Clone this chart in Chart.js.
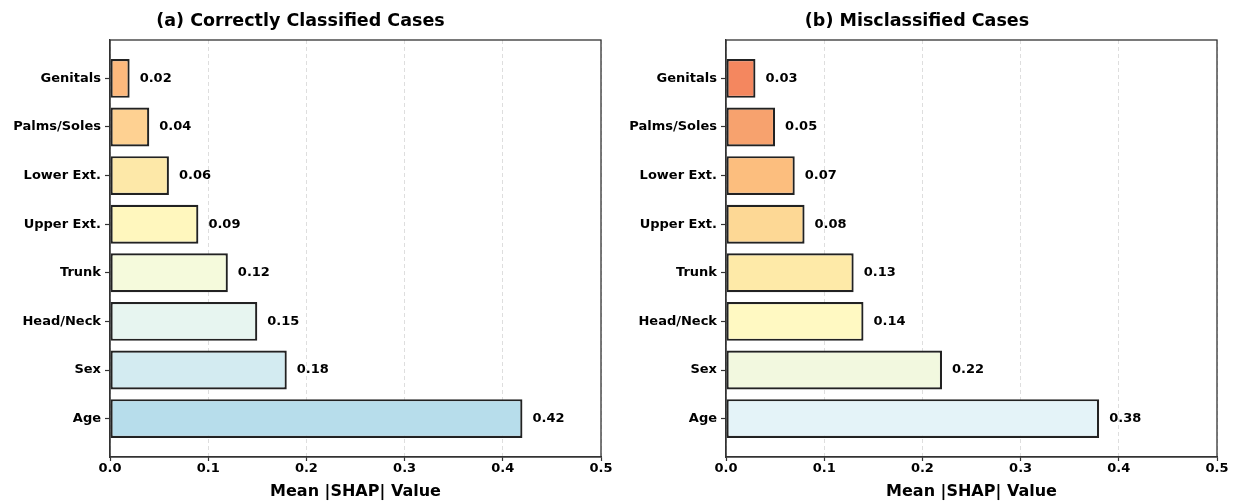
<!DOCTYPE html>
<html>
<head>
<meta charset="utf-8">
<script src="https://cdn.jsdelivr.net/npm/chart.js@4.4.0/dist/chart.umd.min.js"></script>
<style>
html,body{margin:0;padding:0;background:#fff;width:1235px;height:503px;overflow:hidden;}
#c1{position:absolute;left:0;top:0;}
#c2{position:absolute;left:617px;top:0;}
</style>
</head>
<body>
<canvas id="c1" width="617" height="503"></canvas>
<canvas id="c2" width="618" height="503"></canvas>
<script>
// Categories bottom-to-top (Age at bottom)
const categories = ['Age','Sex','Head/Neck','Trunk','Upper Ext.','Lower Ext.','Palms/Soles','Genitals'];
const correctValues = [0.42,0.18,0.15,0.12,0.09,0.06,0.04,0.02];
const misclassifiedValues = [0.38,0.22,0.14,0.13,0.08,0.07,0.05,0.03];
const xTicks = [0.0,0.1,0.2,0.3,0.4,0.5];
const correctColors = ['#B7DDEB','#D3EBF1','#E7F5F0','#F5FADC','#FFF7BE','#FDE8A8','#FED192','#FDB97D'];
const misColors = ['#E4F3F8','#F2F8DF','#FFF9C2','#FEEAA8','#FDD895','#FCBE7E','#F7A26E','#F4875F'];
const titles = ['(a) Correctly Classified Cases','(b) Misclassified Cases'];
const axisTitle = 'Mean |SHAP| Value';

Chart.defaults.font.family = '"DejaVu Sans", sans-serif';
Chart.defaults.font.weight = 'bold';
Chart.defaults.color = '#000';

const framePlugin = {
  id: 'frame',
  afterDraw(chart) {
    const a = chart.chartArea, ctx = chart.ctx;
    ctx.save();
    ctx.strokeStyle = '#333';
    ctx.lineWidth = 1.3;
    ctx.strokeRect(a.left, a.top, a.right - a.left, a.bottom - a.top);
    ctx.restore();
  }
};
const valueLabels = {
  id: 'valueLabels',
  afterDatasetsDraw(chart) {
    const ctx = chart.ctx, xs = chart.scales.x, ys = chart.scales.y;
    const ds = chart.data.datasets[0];
    ctx.save();
    ctx.font = 'bold 13px "DejaVu Sans", sans-serif';
    ctx.fillStyle = '#000';
    ctx.textAlign = 'left';
    ctx.textBaseline = 'middle';
    ds.data.forEach(p => {
      ctx.fillText(p.x.toFixed(2), xs.getPixelForValue(p.x) + 10, ys.getPixelForValue(p.y));
    });
    ctx.restore();
  }
};

function makeChart(id, values, colors, title, yWidth, padRight) {
  return new Chart(document.getElementById(id), {
    type: 'bar',
    data: {
      datasets: [{
        data: values.map((v, i) => ({x: v, y: i})),
        backgroundColor: colors,
        borderColor: '#222',
        borderWidth: 2.2,
        borderSkipped: false,
        categoryPercentage: 1.0,
        barPercentage: 0.8
      }]
    },
    options: {
      indexAxis: 'y',
      responsive: false,
      animation: false,
      devicePixelRatio: 1,
      layout: {padding: {left: 0, right: padRight, top: 0, bottom: 0}},
      plugins: {
        legend: {display: false},
        tooltip: {enabled: false},
        title: {display: true, text: title, font: {size: 17.5, weight: 'bold'}, color: '#000', padding: {top: 11, bottom: 8}}
      },
      scales: {
        x: {
          type: 'linear', min: 0, max: 0.5,
          afterBuildTicks: s => { s.ticks = xTicks.map(v => ({value: v})); },
          afterFit: s => { s.height = 46; },
          ticks: {font: {size: 13, weight: 'bold'}, padding: 0, maxRotation: 0, callback: v => v.toFixed(1)},
          grid: {color: 'rgba(0,0,0,0.13)', lineWidth: 1, tickColor: '#333', tickLength: 4, tickWidth: 1.2, tickBorderDash: []},
          border: {display: true, color: '#333', width: 1.3, dash: [4, 3]},
          title: {display: true, text: axisTitle, font: {size: 16, weight: 'bold'}, color: '#000', padding: {top: 0, bottom: 2}}
        },
        y: {
          type: 'linear', min: -0.79, max: 7.79, offset: false,
          afterBuildTicks: s => { s.ticks = categories.map((_, i) => ({value: i})); },
          afterFit: s => { s.width = yWidth; },
          ticks: {font: {size: 13, weight: 'bold'}, padding: 4, callback: v => categories[v]},
          grid: {drawOnChartArea: false, drawTicks: true, tickLength: 5, tickColor: '#333', tickWidth: 1.2, offset: false},
          border: {display: true, color: '#333', width: 1.3}
        }
      }
    },
    plugins: [framePlugin, valueLabels]
  });
}

makeChart('c1', correctValues, correctColors, titles[0], 110, 16);
makeChart('c2', misclassifiedValues, misColors, titles[1], 109, 18);
</script>
</body>
</html>
